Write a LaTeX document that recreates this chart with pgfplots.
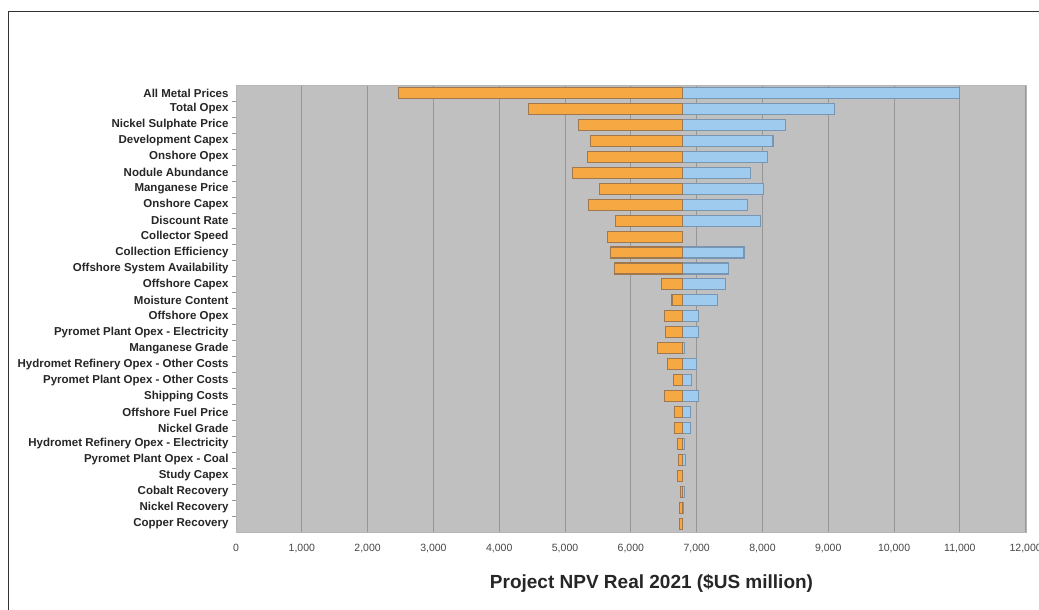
\documentclass[border=0pt]{standalone}
\usepackage{pgfplots}
\pgfplotsset{compat=1.18}
\usepackage{pgfplotstable}
\usepackage{fontspec}
\setmainfont{Liberation Sans}
\definecolor{bgc}{RGB}{192,192,192}
\definecolor{gridc}{RGB}{150,150,150}
\definecolor{orf}{RGB}{246,168,67}
\definecolor{ord}{RGB}{160,120,80}
\definecolor{blf}{RGB}{158,203,238}
\definecolor{bld}{RGB}{120,150,180}
\definecolor{tickc}{RGB}{70,70,70}
\pgfplotstableread{
idx low high
0 2475 11000
1 4440 9100
2 5210 8350
3 5390 8160
4 5340 8070
5 5120 7820
6 5520 8010
7 5350 7770
8 5760 7970
9 5650 6780
10 5685 7720
11 5745 7490
12 6460 7445
13 6625 7320
14 6505 7030
15 6520 7030
16 6400 6820
17 6555 6995
18 6645 6915
19 6515 7030
20 6665 6900
21 6670 6905
22 6710 6820
23 6720 6835
24 6705 6790
25 6760 6815
26 6745 6800
27 6735 6785
}\datatable
\def\base{6780}
\begin{document}
\begin{tikzpicture}
\useasboundingbox (0,0) rectangle (1039bp,610bp);
\fill[white] (0,0) rectangle (1039bp,610bp);
\draw[line width=1.3bp, color=black!80] (8.5bp,0) -- (8.5bp,598.5bp) -- (1039bp,598.5bp);
\begin{axis}[
  at={(236bp,78.3bp)}, anchor=south west,
  scale only axis, width=789.7bp, height=446.7bp,
  xbar stacked, bar width=11bp,
  xmin=0, xmax=12000,
  ymin=-0.5, ymax=27.5, y dir=reverse,
  axis background/.style={fill=bgc},
  axis line style={gridc!70},
  xtick={0,1000,...,12000},
  xmajorgrids, major grid style={gridc, line width=0.9bp},
  major tick length=0pt,
  ytick={0,...,27},
  ytick pos=left,
  minor y tick num=1,
  minor tick length=4bp,
  tick align=outside,
  minor tick style={gridc},
  yticklabels={All Metal Prices,Total Opex,Nickel Sulphate Price,Development Capex,Onshore Opex,Nodule Abundance,Manganese Price,Onshore Capex,Discount Rate,Collector Speed,Collection Efficiency,Offshore System Availability,Offshore Capex,Moisture Content,Offshore Opex,Pyromet Plant Opex - Electricity,Manganese Grade,Hydromet Refinery Opex - Other Costs,Pyromet Plant Opex - Other Costs,Shipping Costs,Offshore Fuel Price,Nickel Grade,Hydromet Refinery Opex - Electricity,Pyromet Plant Opex - Coal,Study Capex,Cobalt Recovery,Nickel Recovery,Copper Recovery},
  yticklabel style={font=\fontsize{11.5bp}{12bp}\selectfont\bfseries, color=black!85, xshift=-4bp},
  xticklabel style={font=\fontsize{10.5bp}{11bp}\selectfont, color=tickc, yshift=-9bp},
  /pgf/number format/assume math mode=true,
  /pgf/number format/1000 sep={,},
  scaled x ticks=false,
  clip=false,
]
\addplot[draw=none, fill=none, forget plot] table[x expr=\thisrow{low}, y=idx] {\datatable};
\addplot[fill=orf, draw=ord, line width=1.1bp] table[x expr=\base-\thisrow{low}, y=idx] {\datatable};
\addplot[fill=blf, draw=bld, line width=1.1bp] table[x expr=\thisrow{high}-\base, y=idx] {\datatable};
\end{axis}
\node[font=\fontsize{19bp}{22bp}\selectfont\bfseries, color=black!85] at (651.5bp,27bp) {Project NPV Real 2021 (\$US million)};
\end{tikzpicture}
\end{document}
